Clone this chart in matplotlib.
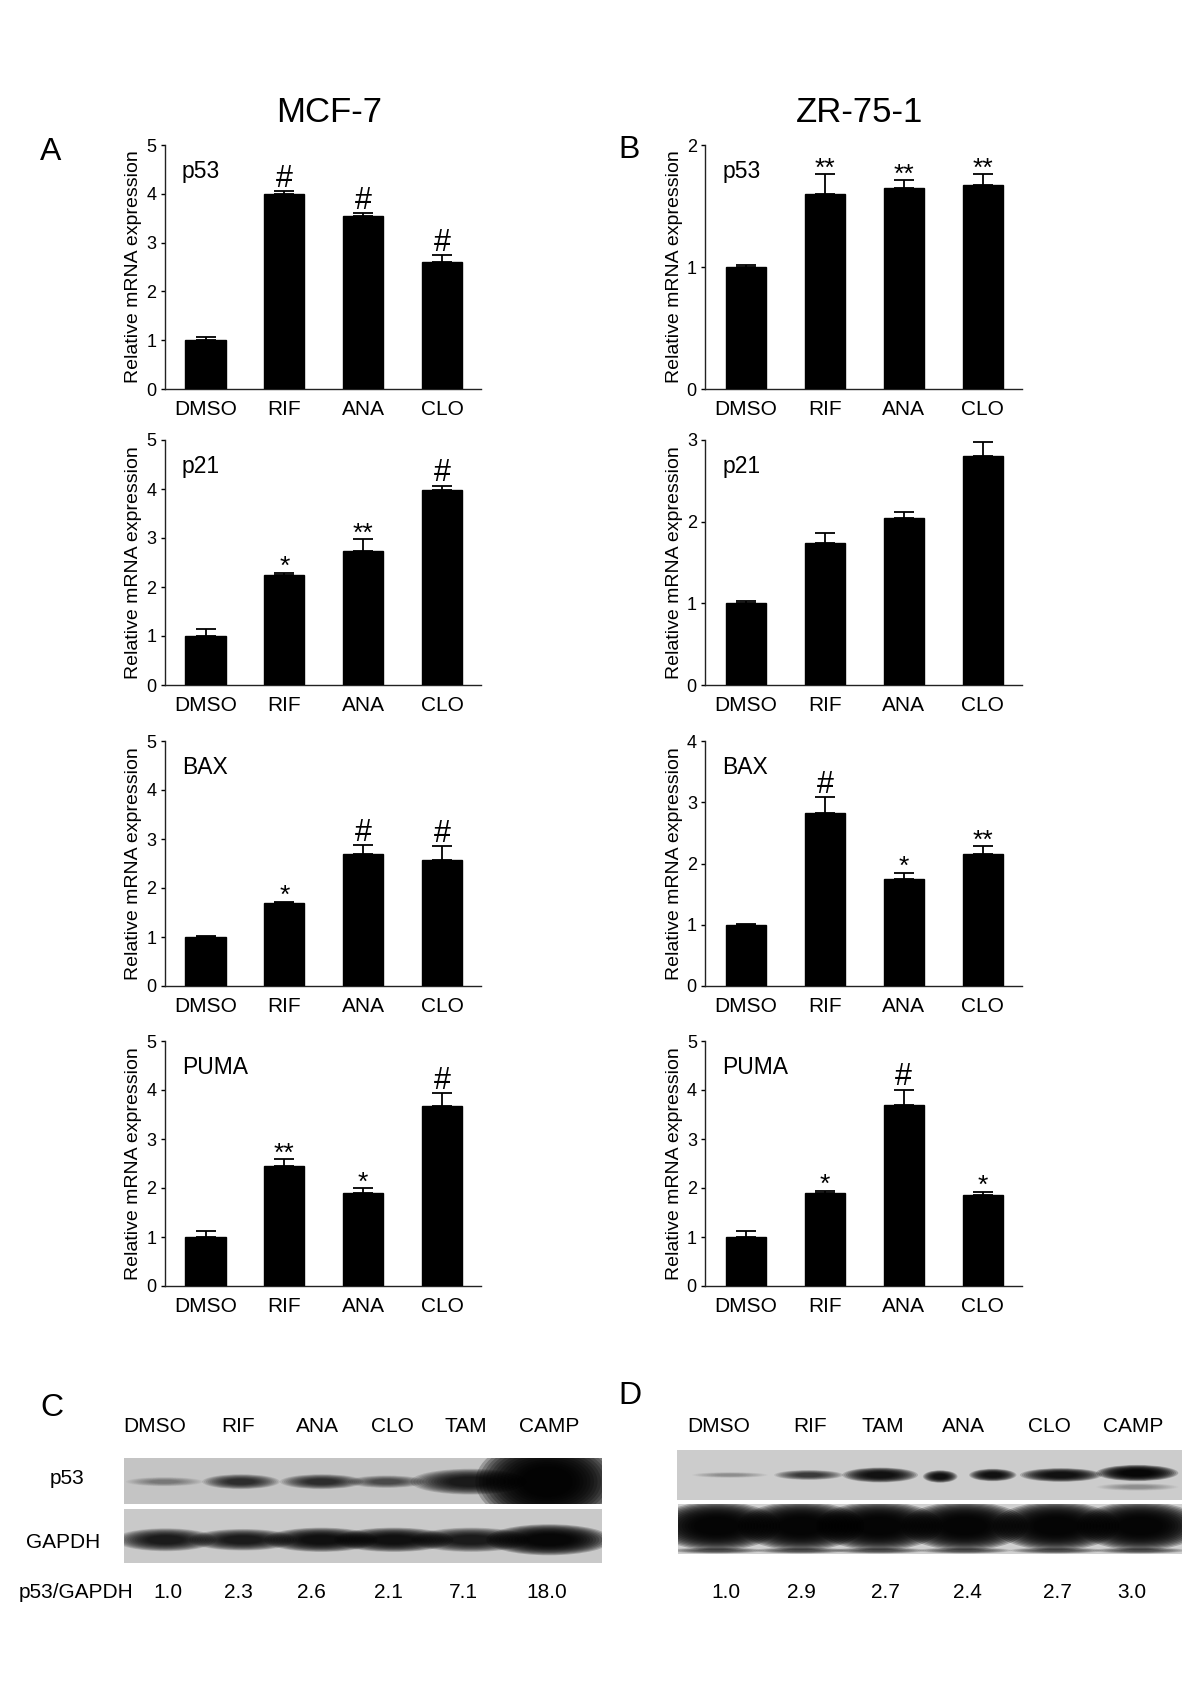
import matplotlib
matplotlib.use("Agg")
import matplotlib.pyplot as plt
from matplotlib.patches import Ellipse
import numpy as np

plt.rcParams['font.family'] = ['Liberation Sans', 'DejaVu Sans']

# ---- qPCR data ----
treatments = ["DMSO", "RIF", "ANA", "CLO"]

mcf7_p53 = [1.00, 4.00, 3.54, 2.60]
mcf7_p53_err = [0.07, 0.06, 0.06, 0.14]
mcf7_p53_sig = ["", "#", "#", "#"]

mcf7_p21 = [1.00, 2.25, 2.73, 3.97]
mcf7_p21_err = [0.15, 0.04, 0.24, 0.10]
mcf7_p21_sig = ["", "*", "**", "#"]

mcf7_bax = [1.00, 1.69, 2.69, 2.57]
mcf7_bax_err = [0.02, 0.03, 0.19, 0.28]
mcf7_bax_sig = ["", "*", "#", "#"]

mcf7_puma = [1.01, 2.45, 1.89, 3.67]
mcf7_puma_err = [0.11, 0.14, 0.10, 0.26]
mcf7_puma_sig = ["", "**", "*", "#"]

zr_p53 = [1.00, 1.60, 1.65, 1.67]
zr_p53_err = [0.02, 0.16, 0.06, 0.09]
zr_p53_sig = ["", "**", "**", "**"]

zr_p21 = [1.00, 1.74, 2.05, 2.80]
zr_p21_err = [0.03, 0.12, 0.07, 0.18]
zr_p21_sig = ["", "", "", ""]

zr_bax = [1.00, 2.83, 1.75, 2.15]
zr_bax_err = [0.02, 0.25, 0.10, 0.13]
zr_bax_sig = ["", "#", "*", "**"]

zr_puma = [1.01, 1.89, 3.69, 1.85]
zr_puma_err = [0.11, 0.05, 0.32, 0.07]
zr_puma_sig = ["", "*", "#", "*"]

genes = ["p53", "p21", "BAX", "PUMA"]
mcf7_ymax = [5, 5, 5, 5]
zr_ymax = [2, 3, 4, 5]

# ---- western blot data ----
c_lanes = ["DMSO", "RIF", "ANA", "CLO", "TAM", "CAMP"]
c_ratio = ["1.0", "2.3", "2.6", "2.1", "7.1", "18.0"]
c_p53_dark = [0.35, 0.75, 0.75, 0.6, 0.85, 0.97]
c_gapdh_dark = [0.85, 0.85, 0.9, 0.9, 0.85, 0.95]

d_lanes = ["DMSO", "RIF", "TAM", "ANA", "CLO", "CAMP"]
d_ratio = ["1.0", "2.9", "2.7", "2.4", "2.7", "3.0"]
d_p53_dark = [0.3, 0.7, 0.9, 0.9, 0.9, 0.9, 0.95]   # ANA lane has two pieces
d_gapdh_dark = [0.97, 0.97, 0.97, 0.97, 0.97, 0.97]

W, H = 1200, 1698
fig = plt.figure(figsize=(W / 100, H / 100), dpi=100)


def px_axes(x0, y0, x1, y1):
    return fig.add_axes([x0 / W, 1 - y1 / H, (x1 - x0) / W, (y1 - y0) / H])


def ftext(x, y, s, **kw):
    kw.setdefault('ha', 'center')
    kw.setdefault('va', 'center')
    fig.text(x / W, 1 - y / H, s, **kw)


def bar_panel(ax, vals, errs, sigs, ymax, gene):
    x = np.arange(len(treatments))
    ax.bar(x, vals, width=0.51, color='black', edgecolor='black', zorder=3)
    ax.errorbar(x, vals, yerr=[np.zeros(len(vals)), errs], fmt='none',
                ecolor='black', elinewidth=1.3, capsize=7, capthick=1.3, zorder=2)
    for xi, v, e, s in zip(x, vals, errs, sigs):
        if s == "#":
            ax.annotate(s, (xi, v + e), xytext=(0, 3), textcoords='offset points',
                        ha='center', va='baseline', fontsize=22)
        elif s:
            ax.annotate(s, (xi, v + e), xytext=(0, -1), textcoords='offset points',
                        ha='center', va='baseline', fontsize=19)
    ax.set_xlim(-0.52, 3.5)
    ax.set_ylim(0, ymax)
    ax.set_yticks(range(ymax + 1))
    ax.set_xticks(x)
    ax.set_xticklabels(treatments)
    for sp in ['top', 'right']:
        ax.spines[sp].set_visible(False)
    for sp in ['left', 'bottom']:
        ax.spines[sp].set_linewidth(1.0)
        ax.spines[sp].set_color('#222222')
    ax.tick_params(axis='x', length=0, pad=8, labelsize=15)
    ax.tick_params(axis='y', length=3, width=1, pad=3, labelsize=13)
    ax.set_ylabel('Relative mRNA expression', fontsize=14, labelpad=3)
    ax.text(0.055, 0.89, gene, transform=ax.transAxes, fontsize=16.5, ha='left', va='center')


rows = [(145, 389), (440, 685), (741, 986), (1041, 1286)]
mcf7 = [(mcf7_p53, mcf7_p53_err, mcf7_p53_sig), (mcf7_p21, mcf7_p21_err, mcf7_p21_sig),
        (mcf7_bax, mcf7_bax_err, mcf7_bax_sig), (mcf7_puma, mcf7_puma_err, mcf7_puma_sig)]
zr = [(zr_p53, zr_p53_err, zr_p53_sig), (zr_p21, zr_p21_err, zr_p21_sig),
      (zr_bax, zr_bax_err, zr_bax_sig), (zr_puma, zr_puma_err, zr_puma_sig)]

for i, (top, bot) in enumerate(rows):
    ax = px_axes(164.6, top, 481.4, bot)
    bar_panel(ax, *mcf7[i], mcf7_ymax[i], genes[i])
    ax = px_axes(705.2, top, 1022, bot)
    bar_panel(ax, *zr[i], zr_ymax[i], genes[i])

ftext(329, 112, "MCF-7", fontsize=25)
ftext(860, 112, "ZR-75-1", fontsize=25)
ftext(51, 152, "A", fontsize=23)
ftext(629, 150, "B", fontsize=23)


# ---- blots ----
def strip(x0, y0, x1, y1, color):
    ax = px_axes(x0, y0, x1, y1)
    ax.set_facecolor(color)
    ax.set_xlim(0, 1)
    ax.set_ylim(0, 1)
    ax.set_xticks([])
    ax.set_yticks([])
    for sp in ax.spines.values():
        sp.set_visible(False)
    return ax


def band(ax, xc, yc, w, h, dark, n=14):
    # soft band: stack of ellipses, outer ones faint
    a = 1 - (1 - min(dark, 0.98)) ** (1.0 / n)
    for s in np.linspace(1.25, 0.45, n):
        ax.add_patch(Ellipse((xc, yc), w * s, h * s, facecolor='black',
                             alpha=a, lw=0))


# C
ax = strip(124.4, 1458, 602, 1504, '#c4c4c4')
c_p53_x = [0.084, 0.244, 0.413, 0.549, 0.724, 0.885]
c_p53_w = [0.13, 0.13, 0.14, 0.13, 0.2, 0.24]
c_p53_h = [0.16, 0.26, 0.26, 0.22, 0.45, 1.5]
for xc, w, h, d in zip(c_p53_x, c_p53_w, c_p53_h, c_p53_dark):
    band(ax, xc, 0.485, w, h, d)

ax = strip(124.4, 1509, 602, 1563, '#c9c9c9')
c_g_x = [0.086, 0.248, 0.412, 0.564, 0.726, 0.889]
c_g_w = [0.17, 0.18, 0.19, 0.2, 0.2, 0.21]
c_g_h = [0.34, 0.32, 0.36, 0.36, 0.36, 0.46]
for xc, w, h, d in zip(c_g_x, c_g_w, c_g_h, c_gapdh_dark):
    band(ax, xc, 0.43, w, h, d)

ftext(51.7, 1408, "C", fontsize=23)
c_label_x = [155, 238, 317, 392, 466, 549]
c_ratio_x = [168, 238, 311, 388, 463, 547]
for lx, s in zip(c_label_x, c_lanes):
    ftext(lx, 1427, s, fontsize=15)
for rx, s in zip(c_ratio_x, c_ratio):
    ftext(rx, 1593, s, fontsize=15)
ftext(67, 1478, "p53", fontsize=15)
ftext(63, 1543, "GAPDH", fontsize=15)
ftext(76.5, 1593, "p53/GAPDH", fontsize=15)

# D
ax = strip(676.5, 1450, 1181.7, 1500, '#cccccc')
d_p53_x = [0.106, 0.262, 0.403, 0.522, 0.626, 0.761, 0.912]
d_p53_y = [0.5, 0.5, 0.5, 0.47, 0.5, 0.5, 0.54]
d_p53_w = [0.12, 0.11, 0.12, 0.055, 0.075, 0.13, 0.13]
d_p53_h = [0.09, 0.16, 0.24, 0.2, 0.2, 0.22, 0.26]
for xc, yc, w, h, d in zip(d_p53_x, d_p53_y, d_p53_w, d_p53_h, d_p53_dark):
    band(ax, xc, yc, w, h, d)
band(ax, 0.912, 0.26, 0.13, 0.12, 0.3)

ax = strip(678, 1504, 1182, 1554, '#d0d0d0')
d_g_x = [0.077, 0.244, 0.399, 0.569, 0.750, 0.917]
for xc, d in zip(d_g_x, d_gapdh_dark):
    band(ax, xc, 0.07, 0.15, 0.1, 0.6)
for xc, d in zip(d_g_x, d_gapdh_dark):
    band(ax, xc, 0.56, 0.2, 0.78, d)

ftext(630, 1396, "D", fontsize=23)
d_label_x = [719, 810, 883, 963, 1049, 1133]
d_ratio_x = [726, 801, 885, 967, 1057, 1132]
for lx, s in zip(d_label_x, d_lanes):
    ftext(lx, 1427, s, fontsize=15)
for rx, s in zip(d_ratio_x, d_ratio):
    ftext(rx, 1593, s, fontsize=15)

fig.savefig("out.png", dpi=100, facecolor='white')
